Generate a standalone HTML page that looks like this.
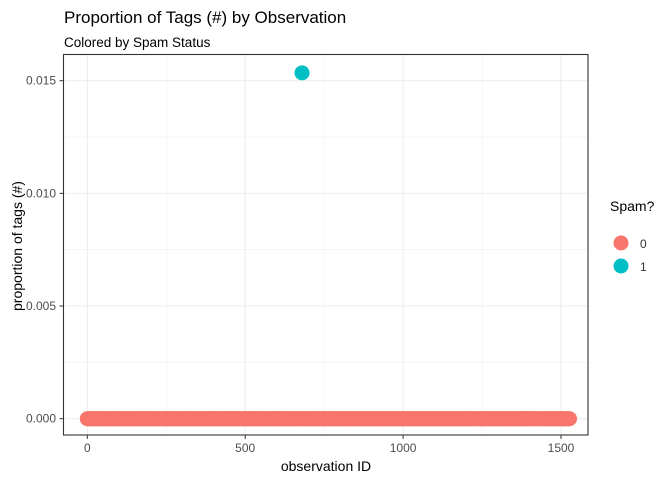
<!DOCTYPE html>
<html><head><meta charset="utf-8"><style>
body{margin:0;background:#fff;font-family:"Liberation Sans",sans-serif;}
</style></head><body>
<svg width="672" height="480" xmlns="http://www.w3.org/2000/svg" font-family="Liberation Sans, sans-serif">
<text x="64" y="23" font-size="17" fill="#000">Proportion of Tags (#) by Observation</text>
<text x="64" y="47" font-size="13.5" fill="#000">Colored by Spam Status</text>
<g id="grid"></g>
<g id="marks"></g>
<rect x="63.5" y="54.5" width="524.5" height="380.5" fill="none" stroke="#333" stroke-width="1.1"/>
<g id="axes"></g>
<text x="326" y="471" font-size="14" text-anchor="middle">observation ID</text>
<text transform="translate(22,246) rotate(-90)" font-size="14" text-anchor="middle">proportion of tags (#)</text>
<g>
<text x="610" y="211" font-size="14">Spam?</text>
<g><circle cx="621" cy="243" r="7.5" fill="#F8766D"/><text x="640" y="248" font-size="12" fill="#333">0</text></g>
<g><circle cx="621" cy="266" r="7.5" fill="#00BFC4"/><text x="640" y="271" font-size="12" fill="#333">1</text></g>
</g>
</svg>
<script>
const xTicks=[0,500,1000,1500];
const yTicks=[0,0.005,0.010,0.015];
const yTickLabels=["0.000","0.005","0.010","0.015"];
const spam0Ranges=[[0,1222],[1228,1406],[1411,1427],[1433,1528]];
const spam0Value=0;
const spam1Ids=[680];
const spam1Values=[0.01535];
const ns="http://www.w3.org/2000/svg";
const X=v=>87.3+v*(561-87.3)/1500;
const Y=v=>418.7-v*(418.7-80.7)/0.015;
const grid=document.getElementById('grid'),axes=document.getElementById('axes'),marks=document.getElementById('marks');
function mk(tag,attrs,parent){const e=document.createElementNS(ns,tag);for(const k in attrs)e.setAttribute(k,attrs[k]);parent.appendChild(e);return e;}
for(let i=0;i<xTicks.length;i++){
  const x=X(xTicks[i]);
  const l=mk('line',{x1:x,x2:x,y1:54.5,y2:435,stroke:'#ebebeb','stroke-width':1},grid);
  
  
  if(i<xTicks.length-1){const m=mk('line',{x1:(x+X(xTicks[i+1]))/2,x2:(x+X(xTicks[i+1]))/2,y1:54.5,y2:435,stroke:'#ebebeb','stroke-width':0.5},grid);
  
  }
  mk('line',{x1:x,x2:x,y1:435,y2:439,stroke:'#333'},axes);
  const t=mk('text',{x:x,y:452,'font-size':12,'text-anchor':'middle',fill:'#4d4d4d'},axes);
  t.textContent=xTicks[i];
  
  
}
for(let i=0;i<yTicks.length;i++){
  const y=Y(yTicks[i]);
  const l=mk('line',{x1:63.5,x2:588,y1:y,y2:y,stroke:'#ebebeb','stroke-width':1},grid);
  
  
  if(i<yTicks.length-1){const yy=(y+Y(yTicks[i+1]))/2;const m=mk('line',{x1:63.5,x2:588,y1:yy,y2:yy,stroke:'#ebebeb','stroke-width':0.5},grid);
  
  }
  mk('line',{x1:59.5,x2:63.5,y1:y,y2:y,stroke:'#333'},axes);
  const t=mk('text',{x:56,y:y+4,'font-size':12,'text-anchor':'end',fill:'#4d4d4d'},axes);
  t.textContent=yTickLabels[i];
  
  
}
for(const r of spam0Ranges){
  for(let id=r[0];id<=r[1];id+=2){
    if(spam1Ids.includes(id))continue;
    const c=mk('circle',{cx:X(id),cy:Y(spam0Value),r:7.5,fill:'#F8766D'},marks);
    
    
  }
}
for(let i=0;i<spam1Ids.length;i++){
  const c=mk('circle',{cx:X(spam1Ids[i]),cy:Y(spam1Values[i]),r:7.5,fill:'#00BFC4'},marks);
  
  
}
</script>
</body></html>
